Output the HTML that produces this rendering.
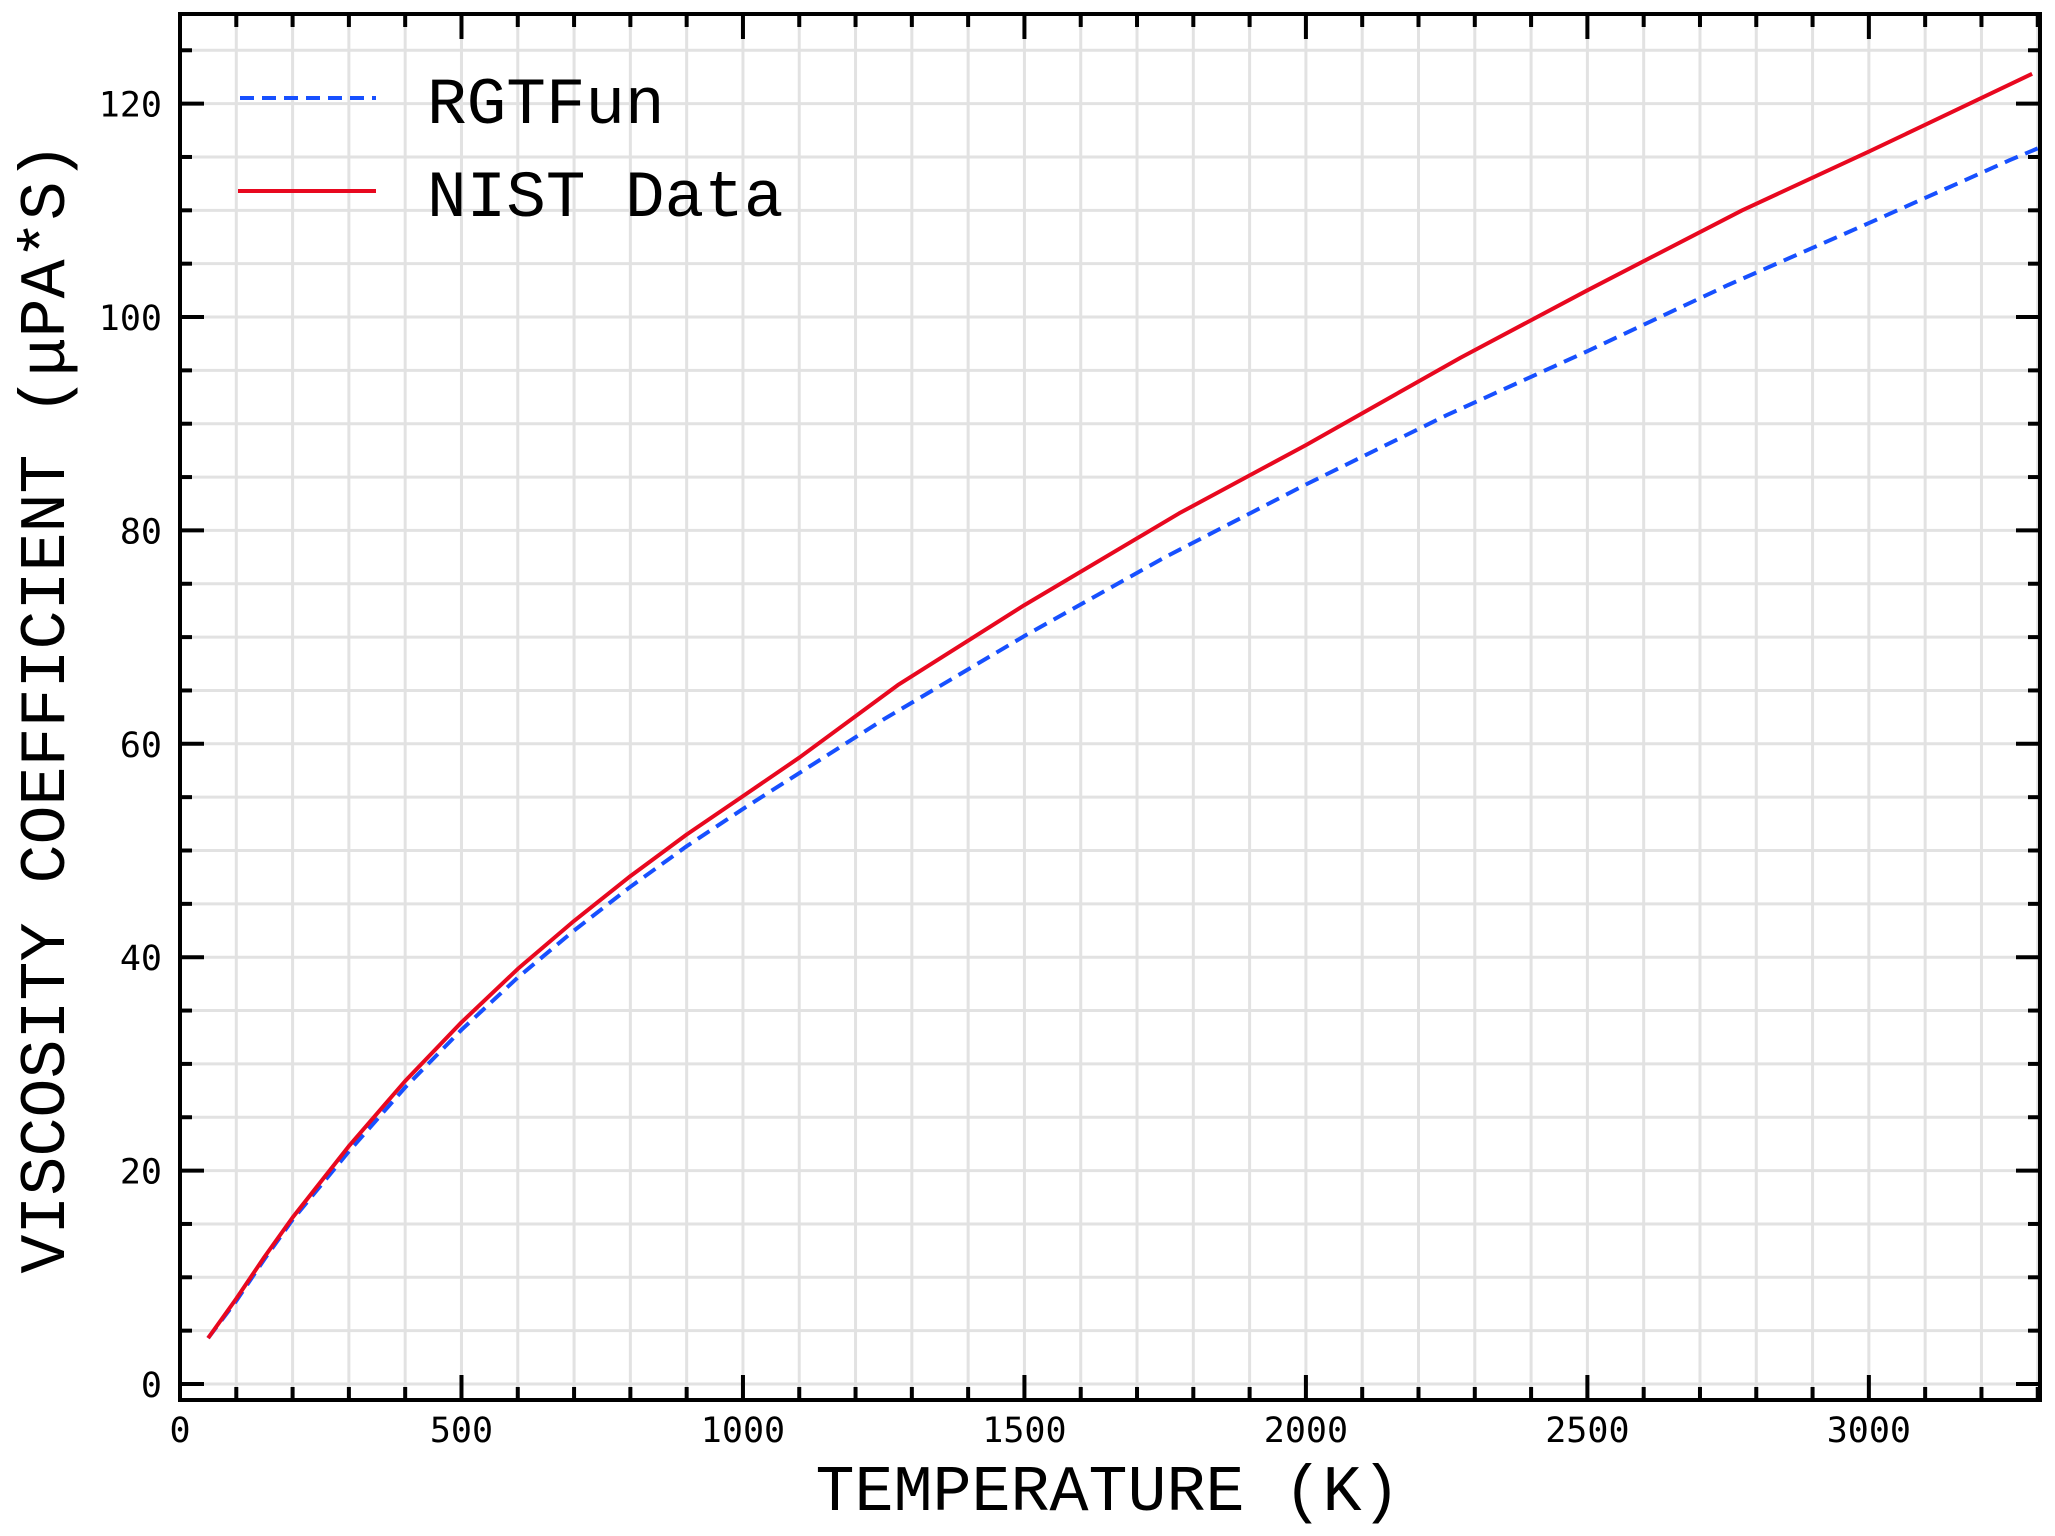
<!DOCTYPE html>
<html><head><meta charset="utf-8"><style>
html,body{margin:0;padding:0;background:#fff;}
svg{display:block;}
</style></head><body>
<svg id="chart" width="2055" height="1536" viewBox="0 0 2055 1536" xmlns="http://www.w3.org/2000/svg">
<g id="grid"></g>
<g id="series"></g>
<g id="axes"></g>
<g id="legend">
  <line x1="240" y1="98" x2="376" y2="98" stroke="#1750ff" stroke-width="4" stroke-dasharray="14,8"/>
  <text x="427" y="123" font-family="Liberation Mono, monospace" font-size="66" fill="#000">RGTFun</text>
  <line x1="238" y1="191" x2="376" y2="191" stroke="#e8081f" stroke-width="4"/>
  <text x="427" y="216" font-family="Liberation Mono, monospace" font-size="66" fill="#000">NIST Data</text>
</g>
<text x="1108" y="1510" text-anchor="middle" font-family="Liberation Mono, monospace" font-size="65" fill="#000">TEMPERATURE (K)</text>
<text transform="translate(64,708) rotate(-90)" text-anchor="middle" font-family="Liberation Mono, monospace" font-size="65" fill="#000">VISCOSITY COEFFICIENT (μPA*S)</text>
</svg>
<script>
const xTicks = [0, 500, 1000, 1500, 2000, 2500, 3000];
const yTicks = [0, 20, 40, 60, 80, 100, 120];
const nistT = [50, 100, 150, 200, 300, 400, 500, 600, 700, 800, 900, 1000, 1100, 1275, 1500, 1775, 2000, 2275, 2500, 2775, 3000, 3290];
const nistV = [4.3, 8.0, 11.9, 15.6, 22.3, 28.4, 33.9, 38.9, 43.4, 47.6, 51.5, 55.1, 58.7, 65.5, 73, 81.6, 88, 96.2, 102.5, 110, 115.5, 122.8];
const rgtT = [50, 100, 150, 200, 300, 400, 500, 600, 700, 800, 900, 1000, 1250, 1500, 1750, 2000, 2250, 2500, 2750, 3000, 3250, 3300];
const rgtV = [4.3, 7.8, 11.7, 15.4, 21.8, 27.8, 33.2, 38.1, 42.5, 46.6, 50.4, 53.9, 62.3, 70.1, 77.5, 84.3, 90.8, 96.8, 103, 108.8, 114.7, 115.8];

const L = 180, R = 2040, T = 14, B = 1400;
const X0 = 0, X1 = 3304, Y0 = -1.5, Y1 = 128.4;
const sx = v => L + (v - X0) / (X1 - X0) * (R - L);
const sy = v => B - (v - Y0) / (Y1 - Y0) * (B - T);
const NS = 'http://www.w3.org/2000/svg';
function mk(tag, parent, attrs) {
  const e = document.createElementNS(NS, tag);
  for (const k in attrs) e.setAttribute(k, attrs[k]);
  parent.appendChild(e);
  return e;
}
const grid = document.getElementById('grid');
const axes = document.getElementById('axes');
const series = document.getElementById('series');

for (let v = 100; v < X1; v += 100) {
  const x = sx(v);
  const g = mk('line', grid, {x1: x, y1: T, x2: x, y2: B, stroke: '#e2e2e2', 'stroke-width': 3});
  
  
  const major = v % 500 === 0;
  const len = major ? 25 : 13;
  const t1 = mk('line', axes, {x1: x, y1: B, x2: x, y2: B - len, stroke: '#000', 'stroke-width': 4});
  
  
  const t2 = mk('line', axes, {x1: x, y1: T, x2: x, y2: T + len, stroke: '#000', 'stroke-width': 4});
  
  
}
for (let v = 0; v < Y1; v += 5) {
  const y = sy(v);
  const g = mk('line', grid, {x1: L, y1: y, x2: R, y2: y, stroke: '#e2e2e2', 'stroke-width': 3});
  
  
  const major = v % 20 === 0;
  const len = major ? 24 : 12;
  const t1 = mk('line', axes, {x1: L, y1: y, x2: L + len, y2: y, stroke: '#000', 'stroke-width': 4});
  
  
  const t2 = mk('line', axes, {x1: R, y1: y, x2: R - len, y2: y, stroke: '#000', 'stroke-width': 4});
  
  
}
const frame = mk('rect', axes, {x: L, y: T, width: R - L, height: B - T, fill: 'none', stroke: '#000', 'stroke-width': 4});



xTicks.forEach(v => {
  const t = mk('text', axes, {x: sx(v), y: 1442, 'text-anchor': 'middle', 'font-family': 'DejaVu Sans Mono, monospace', 'font-size': 35, fill: '#000'});
  t.textContent = v;
  
  
});
yTicks.forEach(v => {
  const t = mk('text', axes, {x: 162, y: sy(v) + 13, 'text-anchor': 'end', 'font-family': 'DejaVu Sans Mono, monospace', 'font-size': 35, fill: '#000'});
  t.textContent = v;
  
  
});

function pts(ts, vs) { return ts.map((t, i) => sx(t).toFixed(1) + ',' + sy(vs[i]).toFixed(1)).join(' '); }
const blue = mk('polyline', series, {points: pts(rgtT, rgtV), fill: 'none', stroke: '#1750ff', 'stroke-width': 4, 'stroke-dasharray': '14,8'});


const red = mk('polyline', series, {points: pts(nistT, nistV), fill: 'none', stroke: '#e8081f', 'stroke-width': 4, 'stroke-linejoin': 'round'});


</script>
</body></html>
